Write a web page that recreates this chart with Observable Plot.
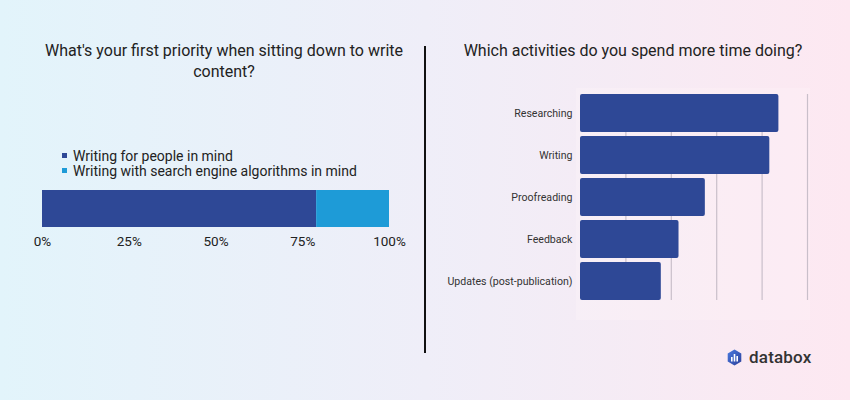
<!DOCTYPE html>
<html><head><meta charset="utf-8">
<script src="https://cdn.jsdelivr.net/npm/d3@7"></script>
<script src="https://cdn.jsdelivr.net/npm/@observablehq/plot@0.6"></script>
<style>
html,body{margin:0;padding:0}
body{width:850px;height:400px;position:relative;overflow:hidden;font-family:Roboto,sans-serif;
background:linear-gradient(90deg,#e2f4fb 0%,#efeef8 50%,#fde8f1 100%);}
.abs{position:absolute}
.title{font-size:16px;color:#222;text-align:center;line-height:21px}
.leg{font-size:14px;color:#222;line-height:15px}
.leg .sw{display:inline-block;width:5px;height:5px;margin-right:6px;vertical-align:middle;position:relative;top:-1px}
</style></head><body>
<script>
// ---- data ----
const priorityTitle = ["What's your first priority when sitting down to write", "content?"];
const prioritySeries = ["Writing for people in mind", "Writing with search engine algorithms in mind"];
const priorityValues = [79, 21];
const priorityColors = ["#2e4896", "#1e9bd7"];
const priorityTicks = [0, 25, 50, 75, 100];

const activityTitle = "Which activities do you spend more time doing?";
const activities = ["Researching", "Writing", "Proofreading", "Feedback", "Updates (post-publication)"];
const activityValues = [43.7, 41.7, 27.5, 21.7, 17.8];
const activityGrid = [10, 20, 30, 40, 50];
const barColor = "#2e4896";

function el(tag, css, html, cls) {
  const e = document.createElement(tag);
  e.style.cssText = css;
  if (cls) e.className = cls;
  if (html != null) e.innerHTML = html;
  document.body.appendChild(e);
  return e;
}

// titles
el("div", "left:14px;top:39.5px;width:420px;", priorityTitle.join("<br>"), "abs title");
el("div", "left:433px;top:39.5px;width:400px;", activityTitle, "abs title");
// divider
el("div", "left:424px;top:46px;width:1.5px;height:307px;background:#111;", null, "abs");

// legend
const leg = el("div", "left:62px;top:148.5px;", null, "abs leg");
prioritySeries.forEach((s, i) => {
  const row = document.createElement("div");
  row.innerHTML = `<span class="sw" style="background:${priorityColors[i]}"></span>${s}`;
  leg.appendChild(row);
});

// left chart
const pData = prioritySeries.map((s, i) => ({series: s, value: priorityValues[i]}));
const left = Plot.plot({
  width: 425, height: 120,
  marginTop: 50, marginBottom: 33, marginLeft: 42, marginRight: 36,
  style: {background: "transparent", fontSize: "13.5px", fontFamily: "Roboto, sans-serif", color: "#222"},
  x: {domain: [0, 100], ticks: priorityTicks, tickFormat: d => d + "%", tickSize: 0, tickPadding: 9, label: null},
  color: {domain: prioritySeries, range: priorityColors},
  marks: [
    Plot.barX(pData, {x: "value", fill: "series"})
  ]
});
left.style.position = "absolute"; left.style.left = "0px"; left.style.top = "140px";
document.body.appendChild(left);

// right plot area background
el("div", "left:576px;top:88px;width:234px;height:232px;background:rgba(255,244,249,0.3);", null, "abs");

// right chart
const aData = activities.map((a, i) => ({activity: a, value: activityValues[i]}));
const right = Plot.plot({
  width: 425, height: 330,
  marginTop: 94, marginBottom: 30, marginLeft: 155, marginRight: 43,
  style: {background: "transparent", fontSize: "10.6px", fontFamily: "Roboto, sans-serif", color: "#333"},
  x: {domain: [0, 50], axis: null},
  y: {domain: activities, paddingInner: 0.1, paddingOuter: 0, tickSize: 0, tickPadding: 8, label: null},
  marks: [
    Plot.ruleX(activityGrid, {stroke: "#c9bfca", strokeWidth: 1.2}),
    Plot.barX(aData, {x: "value", y: "activity", fill: barColor, rx: 2})
  ]
});
right.style.position = "absolute"; right.style.left = "425px"; right.style.top = "0px";
document.body.appendChild(right);

// logo
el("div", "left:727px;top:349px;", `<svg width="15" height="17" viewBox="0 0 15 17">
<defs><linearGradient id="lg" x1="0" y1="0" x2="1" y2="1"><stop offset="0" stop-color="#4a7be0"/><stop offset="1" stop-color="#2c3f9a"/></linearGradient></defs>
<path d="M7.5 0.5 L14.3 4.4 L14.3 12.6 L7.5 16.5 L0.7 12.6 L0.7 4.4 Z" fill="url(#lg)"/>
<rect x="4" y="8" width="1.6" height="4.5" fill="#fff"/><rect x="6.7" y="5" width="1.6" height="7.5" fill="#fff"/><rect x="9.4" y="7" width="1.6" height="5.5" fill="#fff"/>
</svg>`, "abs");
el("div", "left:749px;top:347px;font-size:17px;font-weight:500;color:#333;letter-spacing:0.2px;", "databox", "abs");
</script>
</body></html>
